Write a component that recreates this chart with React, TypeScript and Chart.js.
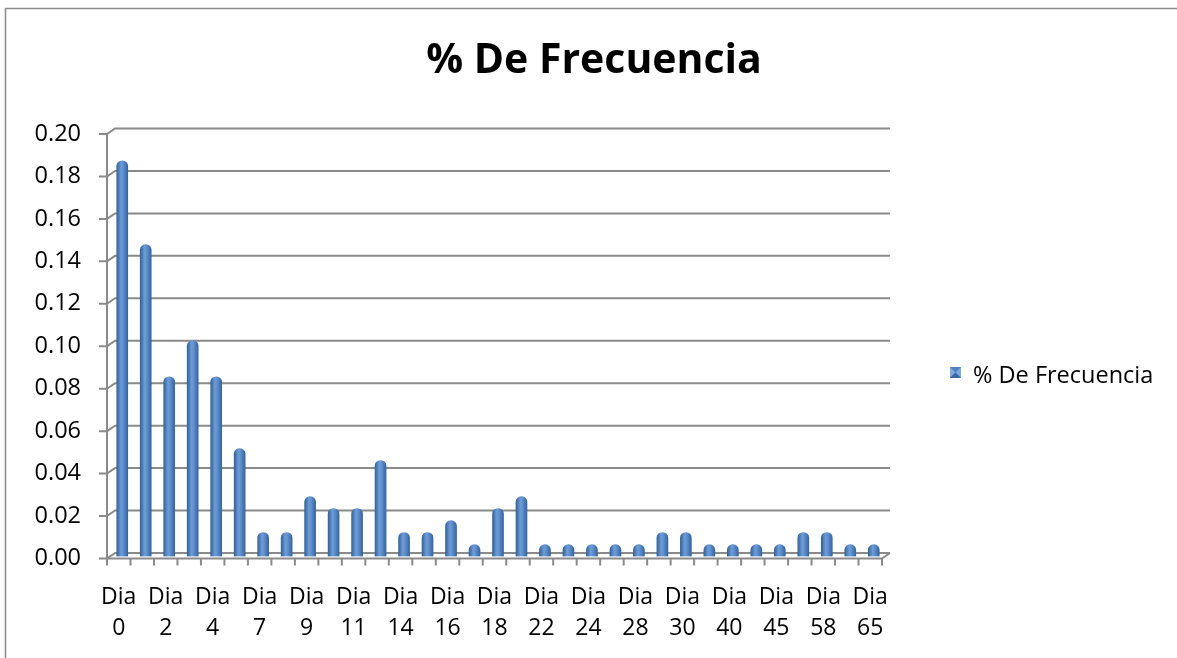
import React, { useEffect, useRef } from 'react';
import { Chart, registerables } from 'chart.js';

Chart.register(...registerables);

const TITLE = '% De Frecuencia';
const SERIES_NAME = '% De Frecuencia';

const CATEGORIES = [
  'Dia 0', 'Dia 1', 'Dia 2', 'Dia 3', 'Dia 4', 'Dia 5', 'Dia 7', 'Dia 8', 'Dia 9', 'Dia 10', 'Dia 11',
  'Dia 12', 'Dia 14', 'Dia 15', 'Dia 16', 'Dia 17', 'Dia 18', 'Dia 20', 'Dia 22', 'Dia 23', 'Dia 24',
  'Dia 26', 'Dia 28', 'Dia 29', 'Dia 30', 'Dia 35', 'Dia 40', 'Dia 42', 'Dia 45', 'Dia 50', 'Dia 58',
  'Dia 60', 'Dia 65',
];

const VALUES = [
  0.1864, 0.1469, 0.0847, 0.1017, 0.0847, 0.0508, 0.0113, 0.0113, 0.0282, 0.0226, 0.0226,
  0.0452, 0.0113, 0.0113, 0.0169, 0.0056, 0.0226, 0.0282, 0.0056, 0.0056, 0.0056,
  0.0056, 0.0056, 0.0113, 0.0113, 0.0056, 0.0056, 0.0056, 0.0056, 0.0113, 0.0113,
  0.0056, 0.0056,
];

const Y_MIN = 0;
const Y_MAX = 0.2;
const Y_STEP = 0.02;

const GRID = '#8a8a8a';
const BAR = '#4f81bd';
const FONT = '"Open Sans", "DejaVu Sans", sans-serif';
const DX = 8;
const DY = 5.5;

function barGradient(ctx: CanvasRenderingContext2D, cx: number, w: number) {
  const g = ctx.createLinearGradient(cx - w / 2, 0, cx + w / 2, 0);
  g.addColorStop(0, '#34629b');
  g.addColorStop(0.4, '#6e9cd6');
  g.addColorStop(0.6, '#5f8fcc');
  g.addColorStop(1, '#36659f');
  return g;
}

const decorPlugin = {
  id: 'decor',
  beforeDatasetsDraw(chart: any) {
    const { ctx, chartArea: a, scales } = chart;
    const y = scales.y;
    const meta = chart.getDatasetMeta(0);
    meta.data.forEach((el: any) => {
      if (Number.isFinite(el.x) && Number.isFinite(el.width) && el.options) {
        el.options.backgroundColor = barGradient(ctx, el.x, el.width);
      }
    });
    ctx.save();
    ctx.strokeStyle = GRID;
    ctx.lineWidth = 2;
    y.ticks.forEach((t: any) => {
      const py = y.getPixelForValue(t.value);
      ctx.beginPath();
      ctx.moveTo(a.left - 8, py);
      ctx.lineTo(a.left, py);
      ctx.lineTo(a.left + DX, py - DY);
      ctx.lineTo(a.right + DX, py - DY);
      ctx.stroke();
    });
    const yTop = y.getPixelForValue(Y_MAX);
    const y0 = y.getPixelForValue(Y_MIN);
    ctx.beginPath();
    ctx.moveTo(a.left, yTop);
    ctx.lineTo(a.left, y0);
    ctx.stroke();
    ctx.restore();
    ctx.save();
    ctx.translate(3.5, -2);
  },
  afterDatasetsDraw(chart: any) {
    const { ctx, chartArea: a, scales } = chart;
    ctx.restore();
    const y = scales.y;
    const y0 = y.getPixelForValue(Y_MIN);
    const n = CATEGORIES.length;
    ctx.save();
    ctx.strokeStyle = GRID;
    ctx.lineWidth = 2;
    ctx.beginPath();
    ctx.moveTo(a.left, y0);
    ctx.lineTo(a.right, y0);
    ctx.lineTo(a.right + DX, y0 - DY);
    ctx.stroke();
    for (let i = 0; i <= n; i++) {
      const px = a.left + (i * (a.right - a.left)) / n;
      ctx.beginPath();
      ctx.moveTo(px, y0);
      ctx.lineTo(px, y0 + 7);
      ctx.stroke();
    }
    ctx.restore();
  },
  afterDraw(chart: any) {
    const { ctx } = chart;
    ctx.save();
    ctx.strokeStyle = '#8a8a8a';
    ctx.lineWidth = 1.5;
    ctx.beginPath();
    ctx.moveTo(5.5, 700);
    ctx.lineTo(5.5, 8.5);
    ctx.lineTo(1200, 8.5);
    ctx.stroke();
    // title
    ctx.fillStyle = '#000';
    ctx.font = `bold 41px ${FONT}`;
    ctx.textAlign = 'center';
    ctx.textBaseline = 'middle';
    ctx.fillText(TITLE, 594, 61);
    // legend
    const lx = 950, ly = 367, s = 11;
    ctx.fillStyle = BAR;
    ctx.fillRect(lx, ly, s, s);
    ctx.fillStyle = '#7fa9de';
    ctx.beginPath();
    ctx.moveTo(lx, ly); ctx.lineTo(lx + s / 2, ly + s / 2); ctx.lineTo(lx, ly + s); ctx.closePath();
    ctx.fill();
    ctx.beginPath();
    ctx.moveTo(lx + s, ly); ctx.lineTo(lx + s / 2, ly + s / 2); ctx.lineTo(lx + s, ly + s); ctx.closePath();
    ctx.fill();
    ctx.fillStyle = '#3a6aa6';
    ctx.beginPath();
    ctx.moveTo(lx, ly + s); ctx.lineTo(lx + s / 2, ly + s / 2); ctx.lineTo(lx + s, ly + s); ctx.closePath();
    ctx.fill();
    ctx.fillStyle = '#000';
    ctx.font = `23.5px ${FONT}`;
    ctx.textAlign = 'left';
    ctx.textBaseline = 'middle';
    ctx.fillText(SERIES_NAME, 973, 376);
    ctx.restore();
  },
};

export default function App() {
  const ref = useRef<HTMLCanvasElement | null>(null);

  useEffect(() => {
    const canvas = ref.current;
    if (!canvas) return;
    const chart = new Chart(canvas, {
      type: 'bar',
      data: {
        labels: CATEGORIES,
        datasets: [
          {
            label: SERIES_NAME,
            data: VALUES,
            barThickness: 11,
            borderSkipped: 'bottom',
            borderRadius: { topLeft: 5.5, topRight: 5.5, bottomLeft: 0, bottomRight: 0 },
            backgroundColor: (c: any) => (c.dataIndex === undefined ? BAR : BAR),
          },
        ],
      },
      options: {
        responsive: false,
        animation: false,
        layout: { padding: { left: 0, top: 134, right: 295, bottom: 0 } },
        plugins: {
          legend: { display: false },
          title: { display: false },
          tooltip: { enabled: false },
        },
        scales: {
          x: {
            grid: { display: false, drawTicks: false },
            border: { display: false },
            afterFit: (scale: any) => { scale.height = 99.5; },
            ticks: {
              autoSkip: false,
              maxRotation: 0,
              minRotation: 0,
              padding: 23,
              color: '#000',
              font: { family: FONT, size: 23, lineHeight: 1.35 },
              callback: function (this: any, val: any, i: number) {
                if (i % 2 !== 0) return '';
                return String(this.getLabelForValue(val)).split(' ');
              },
            },
          },
          y: {
            min: Y_MIN,
            max: Y_MAX,
            grid: { display: false, drawTicks: false },
            border: { display: false },
            afterFit: (scale: any) => { scale.width = 107; },
            ticks: {
              stepSize: Y_STEP,
              padding: 26,
              color: '#000',
              font: { family: FONT, size: 23.5 },
              callback: (v: any) => Number(v).toFixed(2),
            },
          },
        },
      },
      plugins: [decorPlugin],
    });
    return () => chart.destroy();
  }, []);

  return (
    <div style={{ position: 'absolute', left: 0, top: 0, width: 1177, height: 658, background: '#fff' }}>
      <canvas ref={ref} width={1177} height={658} style={{ display: 'block', width: 1177, height: 658 }} />
    </div>
  );
}
